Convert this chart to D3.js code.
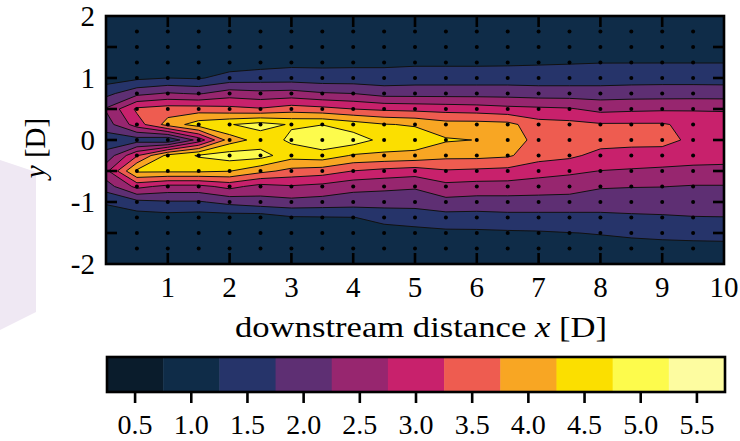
<!DOCTYPE html>
<html><head><meta charset="utf-8">
<script src="https://cdn.jsdelivr.net/npm/d3@7"></script>
<style>body{margin:0;background:#fff} svg{display:block}</style>
</head><body>
<svg id="c" width="740" height="441"></svg>
<script>
// grid coordinates
const xGrid = [0,0.5,1,1.5,2,2.5,3,3.5,4,4.5,5,5.5,6,6.5,7,7.5,8,8.5,9,9.5,10];
const yGrid = [2,1.75,1.5,1.25,1,0.75,0.5,0.25,0,-0.25,-0.5,-0.75,-1,-1.25,-1.5,-1.75,-2];
// values per column (top y=2 to bottom y=-2)
const c00 = [1.0,1.0,1.0,1.0,1.0,1.6,2.3,2.0,1.5,1.9,2.6,2.0,1.3,1.0,1.0,1.0,1.0];
const c05 = [1.0,1.0,1.0,1.0,1.15,2.1,3.35,3.0,1.5,3.2,4.35,2.9,1.6,1.0,1.0,1.0,1.0];
const c10 = [1.0,1.0,1.0,1.0,1.25,2.3,3.5,3.95,1.3,4.4,4.35,2.6,1.7,1.05,1.0,1.0,1.0];
const c15 = [1.0,1.0,1.0,1.0,1.2,2.2,3.5,4.5,2.45,4.8,4.35,2.6,1.7,1.0,1.0,1.0,1.0];
const c20 = [1.0,1.0,1.0,0.95,1.45,2.5,3.4,4.72,4.0,5.0,4.27,2.9,1.9,1.0,1.0,1.0,1.0];
const c25 = [1.0,1.02,1.03,1.05,1.5,2.4,3.3,4.95,4.45,4.95,3.9,2.57,2.05,0.98,1.0,1.0,1.0];
const c30 = [1.0,1.03,1.07,1.13,1.5,2.45,3.5,4.7,4.85,4.45,3.6,2.7,2.1,1.2,1.08,1.03,1.0];
const c35 = [1.0,1.03,1.07,1.14,1.45,2.3,3.4,4.74,5.1,4.55,3.5,2.6,2.05,1.22,1.1,1.03,1.0];
const c40 = [1.0,1.03,1.08,1.15,1.45,2.25,3.25,4.5,5.0,4.2,3.24,2.4,2.0,1.24,1.1,1.03,1.0];
const c45 = [1.0,1.04,1.08,1.15,1.45,2.05,3.15,4.28,4.6,4.15,3.1,2.35,2.0,1.35,1.12,1.04,1.0];
const c50 = [1.0,1.04,1.09,1.17,1.5,2.05,3.1,4.2,4.55,4.1,3.0,2.3,2.0,1.4,1.15,1.05,1.0];
const c55 = [1.0,1.04,1.09,1.17,1.5,2.05,3.05,3.95,4.3,3.9,3.2,2.6,2.1,1.55,1.15,1.05,1.0];
const c60 = [1.0,1.04,1.09,1.17,1.5,2.05,3.0,3.95,4.24,3.9,3.15,2.55,2.05,1.55,1.16,1.05,1.0];
const c65 = [1.0,1.04,1.1,1.18,1.5,2.05,2.9,3.9,4.0,3.82,3.1,2.55,2.05,1.6,1.18,1.06,1.0];
const c70 = [1.0,1.04,1.1,1.2,1.5,2.0,2.85,3.45,3.6,3.45,2.95,2.5,2.05,1.6,1.2,1.07,1.0];
const c75 = [1.0,1.05,1.12,1.22,1.5,2.0,2.8,3.4,3.5,3.35,2.85,2.45,2.05,1.6,1.24,1.08,1.0];
const c80 = [1.0,1.05,1.12,1.24,1.5,2.0,2.6,3.3,3.45,3.1,2.74,2.3,1.95,1.65,1.27,1.1,1.0];
const c85 = [1.0,1.06,1.13,1.24,1.53,2.02,2.65,3.3,3.42,3.05,2.7,2.27,1.96,1.68,1.32,1.1,1.0];
const c90 = [1.0,1.06,1.13,1.24,1.55,2.02,2.68,3.3,3.4,3.05,2.65,2.26,1.97,1.7,1.35,1.12,1.0];
const c95 = [1.0,1.06,1.13,1.24,1.55,2.02,2.7,3.1,3.15,3.0,2.6,2.22,2.0,1.73,1.38,1.12,1.0];
const c100 = [1.0,1.05,1.12,1.24,1.55,2.0,2.72,2.9,3.0,2.95,2.6,2.22,1.98,1.74,1.4,1.12,1.0];

const columns = [c00,c05,c10,c15,c20,c25,c30,c35,c40,c45,c50,c55,c60,c65,c70,c75,c80,c85,c90,c95,c100];

// contour levels (band edges) and colours
const levels = [0.25,0.75,1.25,1.75,2.25,2.75,3.25,3.75,4.25,4.75,5.25,5.75];
const bandColors = ["#0a1c2c","#0f2c48","#26346a","#5e2f73","#97266f","#c8216c",
                    "#ee5c50","#f8a623","#fbdf00","#fdfb4c","#fdfca0"];
const cbTickValues = [0.5,1.0,1.5,2.0,2.5,3.0,3.5,4.0,4.5,5.0,5.5];
const xTickValues = [1,2,3,4,5,6,7,8,9];
const xTickLabels = [1,2,3,4,5,6,7,8,9,10];
const yMinorTicks = [-1.5,-1,-0.5,0,0.5,1,1.5];
const yTickLabels = [-2,-1,0,1,2];

const svg = d3.select("#c");
const P = {left:106, right:724, top:16, bottom:264};
const xS = d3.scaleLinear().domain([0,10]).range([P.left,P.right]);
const yS = d3.scaleLinear().domain([-2,2]).range([P.bottom,P.top]);
const serif = "'Liberation Serif','Times New Roman',serif";
const FS = 29;

// faint watermark shape on the left
svg.append("path")
  .attr("d", "M0,160 L36,172 L36,312 L0,330 Z")
  .attr("fill", "#efe8f3");

const nx = xGrid.length, ny = yGrid.length;
const grid = new Array(nx*ny);
for (let j=0;j<ny;j++) for (let i=0;i<nx;i++) grid[j*nx+i] = columns[i][j];

const dx = xGrid[1]-xGrid[0], dy = yGrid[1]-yGrid[0];
const proj = d3.geoTransform({
  point: function(cx, cy) {
    this.stream.point(xS(xGrid[0] + (cx-0.5)*dx), yS(yGrid[0] + (cy-0.5)*dy));
  }
});
const path = d3.geoPath(proj);

const contours = d3.contours().size([nx, ny]).thresholds(levels.slice(0, bandColors.length))(grid);

svg.append("clipPath").attr("id","clip")
  .append("rect").attr("x",P.left).attr("y",P.top)
  .attr("width",P.right-P.left).attr("height",P.bottom-P.top);

const g = svg.append("g").attr("clip-path","url(#clip)");
g.append("rect").attr("x",P.left).attr("y",P.top)
  .attr("width",P.right-P.left).attr("height",P.bottom-P.top)
  .attr("fill", bandColors[0]);
g.selectAll("path.fill").data(contours).enter().append("path")
  .attr("class","fill")
  .attr("d", path)
  .attr("fill", (d,i) => bandColors[i]);
g.selectAll("path.line").data(contours.slice(1)).enter().append("path")
  .attr("class","line")
  .attr("d", path)
  .attr("fill", "none")
  .attr("stroke", "#111")
  .attr("stroke-width", 1.0)
  .attr("stroke-linejoin","round");

// measurement points
const pts = [];
xGrid.filter(x => x>0 && x<10).forEach(x => yGrid.filter(y => y>-2 && y<2).forEach(y => pts.push([x,y])));
g.selectAll("circle").data(pts).enter().append("circle")
  .attr("cx", d => xS(d[0])).attr("cy", d => yS(d[1])).attr("r", 2.0)
  .attr("fill", "#000");

// ticks (inside)
const tk = svg.append("g").attr("stroke","#000").attr("stroke-width",2.6);
xTickValues.forEach(v => {
  tk.append("line").attr("x1",xS(v)).attr("x2",xS(v)).attr("y1",P.bottom).attr("y2",P.bottom-11);
  tk.append("line").attr("x1",xS(v)).attr("x2",xS(v)).attr("y1",P.top).attr("y2",P.top+11);
});
yMinorTicks.forEach(v => {
  tk.append("line").attr("x1",P.left).attr("x2",P.left+11).attr("y1",yS(v)).attr("y2",yS(v));
  tk.append("line").attr("x1",P.right).attr("x2",P.right-11).attr("y1",yS(v)).attr("y2",yS(v));
});
svg.append("rect").attr("x",P.left).attr("y",P.top)
  .attr("width",P.right-P.left).attr("height",P.bottom-P.top)
  .attr("fill","none").attr("stroke","#000").attr("stroke-width",2.6);

// tick labels
svg.selectAll("text.xl").data(xTickLabels).enter().append("text")
  .attr("x", d => xS(d)).attr("y", 297)
  .attr("text-anchor","middle").attr("font-family",serif).attr("font-size",FS)
  .text(d => d);
svg.selectAll("text.yl").data(yTickLabels).enter().append("text")
  .attr("x", 95).attr("y", d => yS(d)+10)
  .attr("text-anchor","end").attr("font-family",serif).attr("font-size",FS)
  .text(d => d < 0 ? "-" + Math.abs(d) : d);

// axis titles
const xt = svg.append("text").attr("x", (P.left+P.right)/2 + 6).attr("y", 337)
  .attr("text-anchor","middle").attr("font-family",serif).attr("font-size",FS)
  .attr("textLength", 372).attr("lengthAdjust","spacingAndGlyphs");
xt.append("tspan").text("downstream distance ");
xt.append("tspan").attr("font-style","italic").text("x");
xt.append("tspan").text(" [D]");
const yt = svg.append("text").attr("transform","translate(45,148) rotate(-90)")
  .attr("text-anchor","middle").attr("font-family",serif).attr("font-size",FS);
yt.append("tspan").attr("font-style","italic").text("y");
yt.append("tspan").text(" [D]");

// colour bar
const cb = {left:107, right:725, top:357, bottom:392};
const cS = d3.scaleLinear().domain([levels[0], levels[levels.length-1]]).range([cb.left, cb.right]);
svg.selectAll("rect.cb").data(bandColors).enter().append("rect")
  .attr("x", (d,i) => cS(levels[i])).attr("y", cb.top)
  .attr("width", (d,i) => cS(levels[i+1]) - cS(levels[i]) + 0.5)
  .attr("height", cb.bottom-cb.top).attr("fill", d => d);
svg.append("rect").attr("x",cb.left).attr("y",cb.top)
  .attr("width",cb.right-cb.left).attr("height",cb.bottom-cb.top)
  .attr("fill","none").attr("stroke","#000").attr("stroke-width",2.6);
cbTickValues.forEach(v => {
  svg.append("line").attr("x1",cS(v)).attr("x2",cS(v)).attr("y1",cb.bottom).attr("y2",cb.bottom+11)
    .attr("stroke","#000").attr("stroke-width",2.6);
});
svg.selectAll("text.cl").data(cbTickValues).enter().append("text")
  .attr("x", d => cS(d)).attr("y", 434)
  .attr("text-anchor","middle").attr("font-family",serif).attr("font-size",28)
  .text(d => d.toFixed(1));
</script>
</body></html>
